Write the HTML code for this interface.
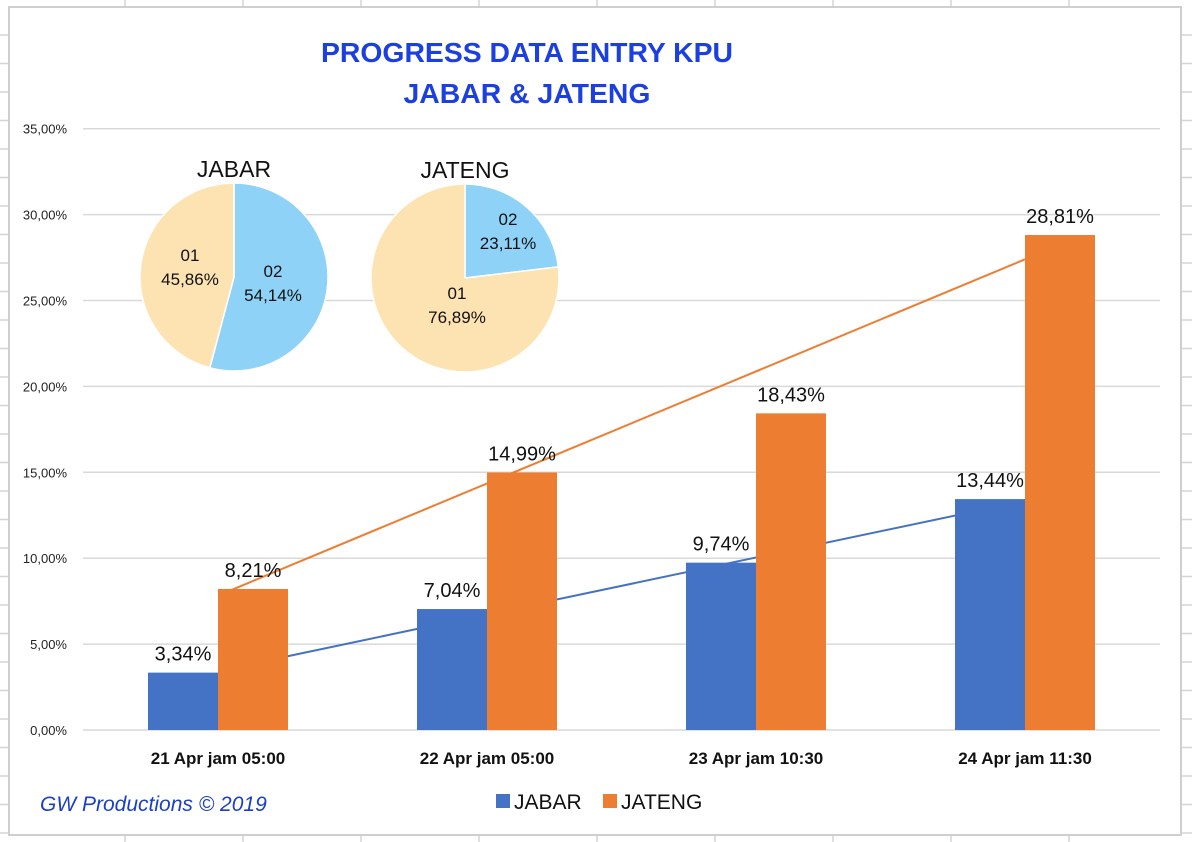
<!DOCTYPE html>
<html><head><meta charset="utf-8">
<style>
html,body{margin:0;padding:0;background:#fff;}
svg{display:block;font-family:"Liberation Sans",sans-serif;}
</style></head>
<body>
<svg id="chart" width="1192" height="842" viewBox="0 0 1192 842">
  <g id="sheet-grid" stroke="#d4d4d4" stroke-width="1.5"></g>
  <rect x="9" y="7" width="1172" height="828" fill="#fff" stroke="#cfcfcf" stroke-width="2"/>
  <text x="527" y="62" text-anchor="middle" font-size="28" font-weight="bold" fill="#1b3fe0" textLength="412" lengthAdjust="spacingAndGlyphs">PROGRESS DATA ENTRY KPU</text>
  <text x="527" y="103" text-anchor="middle" font-size="28" font-weight="bold" fill="#1b3fe0" textLength="247" lengthAdjust="spacingAndGlyphs">JABAR &amp; JATENG</text>
  <g id="grid"></g>
  <g id="yticks"></g>
  <g id="trends"></g>
  <g id="bars"></g>
  <g id="labels"></g>
  <g id="xlabels"></g>
  <g id="pies"></g>
  <text x="40" y="811" font-size="21" font-style="italic" fill="#1b3fc8">GW Productions © 2019</text>
  <g>
    <rect x="496" y="794" width="14" height="14" fill="#4472c4"/>
    <text x="514" y="809" font-size="21" fill="#111">JABAR</text>
    <rect x="603" y="794" width="14" height="14" fill="#ed7d31"/>
    <text x="621" y="809" font-size="21" fill="#111">JATENG</text>
  </g>
</svg>
<script>
const categories = ["21 Apr jam 05:00","22 Apr jam 05:00","23 Apr jam 10:30","24 Apr jam 11:30"];
const jabar = [3.34, 7.04, 9.74, 13.44];
const jateng = [8.21, 14.99, 18.43, 28.81];
const yTicks = [0,5,10,15,20,25,30,35];
const pieJabar = [45.86, 54.14];
const pieJateng = [76.89, 23.11];
const pieLabels = ["01","02"];

const NS = "http://www.w3.org/2000/svg";
function mk(tag, attrs, parent){const e=document.createElementNS(NS,tag);for(const k in attrs)e.setAttribute(k,attrs[k]);parent.appendChild(e);return e;}
const fmt = v => v.toFixed(2).replace('.',',') + '%';
const y0=730, pxPer=17.18;
const yS = v => y0 - v*pxPer;
const x0=218, step=269;
const xS = i => x0 + i*step;
const barW=70;

// spreadsheet grid
const sg=document.getElementById('sheet-grid');
[0,125,243,361,474,592].forEach(c=>{});
for(let y=35;y<842;y+=28.5){const l=mk('line',{x1:0,x2:9,y1:y,y2:y},sg);const r=mk('line',{x1:1181,x2:1192,y1:y,y2:y},sg);}
[125,243,361,479,597,715,833,951,1069].forEach(x=>{const l=mk('line',{x1:x,x2:x,y1:0,y2:7},sg);const b=mk('line',{x1:x,x2:x,y1:835,y2:842},sg);});

const grid=document.getElementById('grid'), yt=document.getElementById('yticks');
yTicks.forEach(t=>{
  const l=mk('line',{x1:83,x2:1160,y1:yS(t),y2:yS(t),stroke:'#d9d9d9','stroke-width':1.5},grid);
  
  
  const tx=mk('text',{x:67,y:yS(t)+5,'text-anchor':'end','font-size':13,fill:'#222'},yt);
  tx.textContent=fmt(t);
  
  
});

function trend(vals){const n=vals.length,mx=(n-1)/2,my=vals.reduce((a,b)=>a+b)/n;let s=0,d=0;vals.forEach((v,i)=>{s+=(i-mx)*(v-my);d+=(i-mx)*(i-mx);});const b=s/d;return [my-b*mx, my+b*(n-1-mx)];}
const tr=document.getElementById('trends');
[[jabar,'#4472c4','trendline-jabar'],[jateng,'#ed7d31','trendline-jateng']].forEach(([v,c,n])=>{
  const [a,b]=trend(v);
  const l=mk('line',{x1:xS(0),y1:yS(a),x2:xS(v.length-1),y2:yS(b),stroke:c,'stroke-width':2},tr);
  
  
});

const bars=document.getElementById('bars'), lab=document.getElementById('labels'), xl=document.getElementById('xlabels');
categories.forEach((c,i)=>{
  const cx=xS(i);
  const b1=mk('rect',{x:cx-barW,y:yS(jabar[i]),width:barW,height:y0-yS(jabar[i]),fill:'#4472c4'},bars);
  
  
  const b2=mk('rect',{x:cx,y:yS(jateng[i]),width:barW,height:y0-yS(jateng[i]),fill:'#ed7d31'},bars);
  
  
  const t1=mk('text',{x:cx-barW/2,y:yS(jabar[i])-12,'text-anchor':'middle','font-size':20,fill:'#111'},lab);
  t1.textContent=fmt(jabar[i]);
  
  
  const t2=mk('text',{x:cx+barW/2,y:yS(jateng[i])-12,'text-anchor':'middle','font-size':20,fill:'#111'},lab);
  t2.textContent=fmt(jateng[i]);
  
  
  const xt=mk('text',{x:cx,y:764,'text-anchor':'middle','font-size':17,'font-weight':'bold',fill:'#111'},xl);
  xt.textContent=c;
  
  
});

const pies=document.getElementById('pies');
function pie(vals,cx,cy,r,title,name,labelPos){
  const g=mk('g',{},pies);
  
  
  const tt=mk('text',{x:cx,y:cy-100,'text-anchor':'middle','font-size':23,fill:'#111'},g);
  tt.textContent=title;
  
  
  const tot=vals.reduce((a,b)=>a+b);
  // slice 02 starts at top clockwise, then 01
  const order=[1,0], cols=['#fde3b2','#8fd2f7'];
  let ang=0;
  order.forEach(k=>{
    const a0=ang, a1=ang+vals[k]/tot*2*Math.PI; ang=a1;
    const p=(a)=>[cx+r*Math.sin(a),cy-r*Math.cos(a)];
    const [x1,y1]=p(a0),[x2,y2]=p(a1);
    const s=mk('path',{d:`M${cx},${cy}L${x1},${y1}A${r},${r} 0 ${a1-a0>Math.PI?1:0} 1 ${x2},${y2}Z`,fill:cols[k],stroke:'#fff','stroke-width':1.5},g);
    
    
    const [lx,ly]=labelPos[k];
    const t=mk('text',{x:lx,y:ly,'text-anchor':'middle','font-size':17,fill:'#111'},g);
    
    
    const a=mk('tspan',{x:lx},t);a.textContent=pieLabels[k];
    const b=mk('tspan',{x:lx,dy:24},t);b.textContent=fmt(vals[k]);
  });
}
pie(pieJabar,234,277,94,'JABAR','pie-jabar',[[190,261],[273,277]]);
pie(pieJateng,465,278,94,'JATENG','pie-jateng',[[457,299],[508,225]]);
</script>
</body></html>
